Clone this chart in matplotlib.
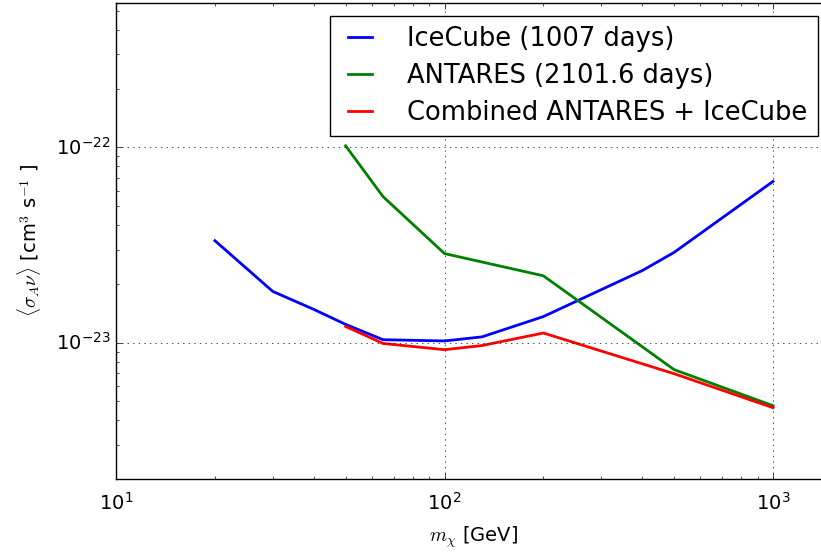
import numpy as np
import matplotlib
matplotlib.use('Agg')
import matplotlib.pyplot as plt

plt.style.use('classic')
plt.rcParams['mathtext.fontset'] = 'cm'
plt.rcParams['figure.facecolor'] = 'white'
plt.rcParams['axes.unicode_minus'] = False

# IceCube (1007 days)
mass_ic = [20, 30, 40, 50, 65, 100, 130, 200, 400, 500, 1000]
sv_ic = [3.33e-23, 1.83e-23, 1.48e-23, 1.24e-23, 1.035e-23, 1.02e-23, 1.07e-23,
         1.36e-23, 2.34e-23, 2.9e-23, 6.7e-23]

# ANTARES (2101.6 days)
mass_ant = [50, 65, 100, 200, 500, 1000]
sv_ant = [1.02e-22, 5.6e-23, 2.86e-23, 2.2e-23, 7.27e-24, 4.75e-24]

# Combined
mass_comb = [50, 65, 100, 130, 200, 500, 1000]
sv_comb = [1.21e-23, 9.9e-24, 9.2e-24, 9.66e-24, 1.12e-23, 6.93e-24, 4.64e-24]

fig = plt.figure(figsize=(8.21, 5.57), dpi=100)
# the right edge of the axes lies just outside the picture
ax = fig.add_axes([0.1413, 0.140, 0.8707, 0.8546])

ax.plot(mass_ic, sv_ic, 'b-', lw=2, label='IceCube (1007 days)')
ax.plot(mass_ant, sv_ant, 'g-', lw=2, label='ANTARES (2101.6 days)')
ax.plot(mass_comb, sv_comb, 'r-', lw=2, label='Combined ANTARES + IceCube')

ax.set_xscale('log')
ax.set_yscale('log')
ax.set_xlim(10, 1500)
ax.set_ylim(2e-24, 5.5e-22)
ax.grid(True, which='major', color='k', linestyle=':')

ax.tick_params(labelsize=14)
ax.tick_params(axis='x', which='major', pad=9)
ax.set_xlabel(r'$m_\chi$ [GeV]', fontsize=14, labelpad=8)
ax.set_ylabel(r'$\langle\sigma_A\nu\rangle$ [cm$^3$ s$^{-1}$ ]', fontsize=14, labelpad=9)

ax.legend(loc='upper right', fontsize=18.5, handlelength=1.5, handletextpad=1.1,
          labelspacing=0.42, frameon=True)

fig.savefig('out.png', dpi=100)
